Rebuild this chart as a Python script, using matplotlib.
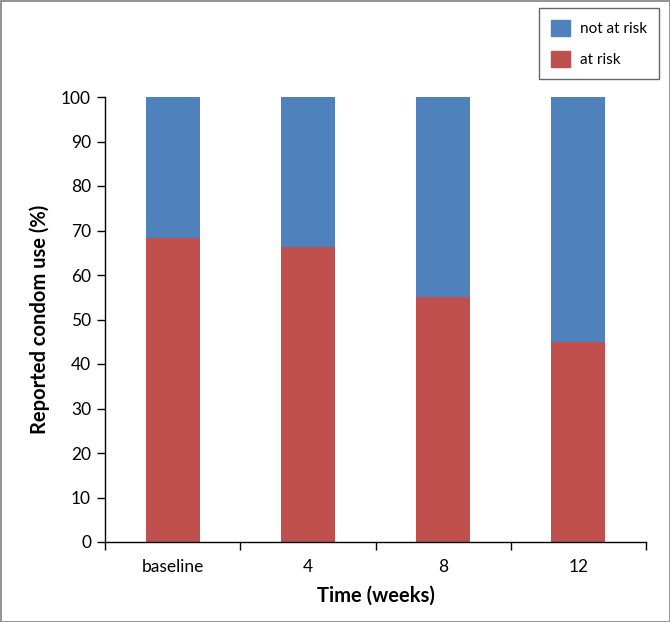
import matplotlib
matplotlib.use("Agg")
import matplotlib.pyplot as plt
from matplotlib.patches import Rectangle, Patch

categories = ["baseline", "4", "8", "12"]
at_risk = [68.3, 66.3, 55.1, 44.9]
not_at_risk = [100 - v for v in at_risk]
y_ticks = [0, 10, 20, 30, 40, 50, 60, 70, 80, 90, 100]

RED = "#C0504D"
BLUE = "#4F81BD"

plt.rcParams['font.family'] = ['Lato', 'DejaVu Sans']

fig = plt.figure(figsize=(6.7, 6.22), dpi=100)
ax = fig.add_axes([105/670, 1 - 542/622, (646 - 105)/670, (542 - 97)/622])

x = list(range(len(categories)))
ax.bar(x, at_risk, width=0.4, color=RED, label="at risk")
ax.bar(x, not_at_risk, width=0.4, bottom=at_risk, color=BLUE, label="not at risk")

ax.set_xlim(-0.5, len(categories) - 0.5)
ax.set_ylim(0, 100)
ax.set_yticks(y_ticks)
ax.set_xticks(x)
ax.set_xticklabels(categories)
ax.set_xticks([i - 0.5 for i in range(len(categories) + 1)], minor=True)
ax.tick_params(axis='x', which='major', length=0, pad=12, labelsize=12.5)
ax.tick_params(axis='x', which='minor', length=6, width=1, direction='out')
ax.tick_params(axis='y', length=6, width=1, direction='out', labelsize=12.5, pad=4)

for s in ['top', 'right']:
    ax.spines[s].set_visible(False)
for s in ['left', 'bottom']:
    ax.spines[s].set_color('black')
    ax.spines[s].set_linewidth(1)

ax.set_ylabel("Reported condom use (%)", fontsize=14.5, fontweight='bold', labelpad=8)
ax.set_xlabel("Time (weeks)", fontsize=14.5, fontweight='bold', labelpad=8)

handles = [Patch(color=BLUE, label="not at risk"), Patch(color=RED, label="at risk")]
leg = fig.legend(handles=handles, loc='upper right', bbox_to_anchor=(662/670, 1 - 5/622),
                 frameon=True, fancybox=False, edgecolor='#404040', fontsize=11,
                 handlelength=1.25, handleheight=1.3, labelspacing=0.95, borderpad=0.75,
                 handletextpad=0.7, borderaxespad=0.2)
leg.get_frame().set_linewidth(1.0)

fig.patches.append(Rectangle((0.5/670, 0.5/622), 669/670, 621/622, transform=fig.transFigure,
                             fill=False, edgecolor='#808080', linewidth=1.2))

fig.savefig("out.png", dpi=100)
